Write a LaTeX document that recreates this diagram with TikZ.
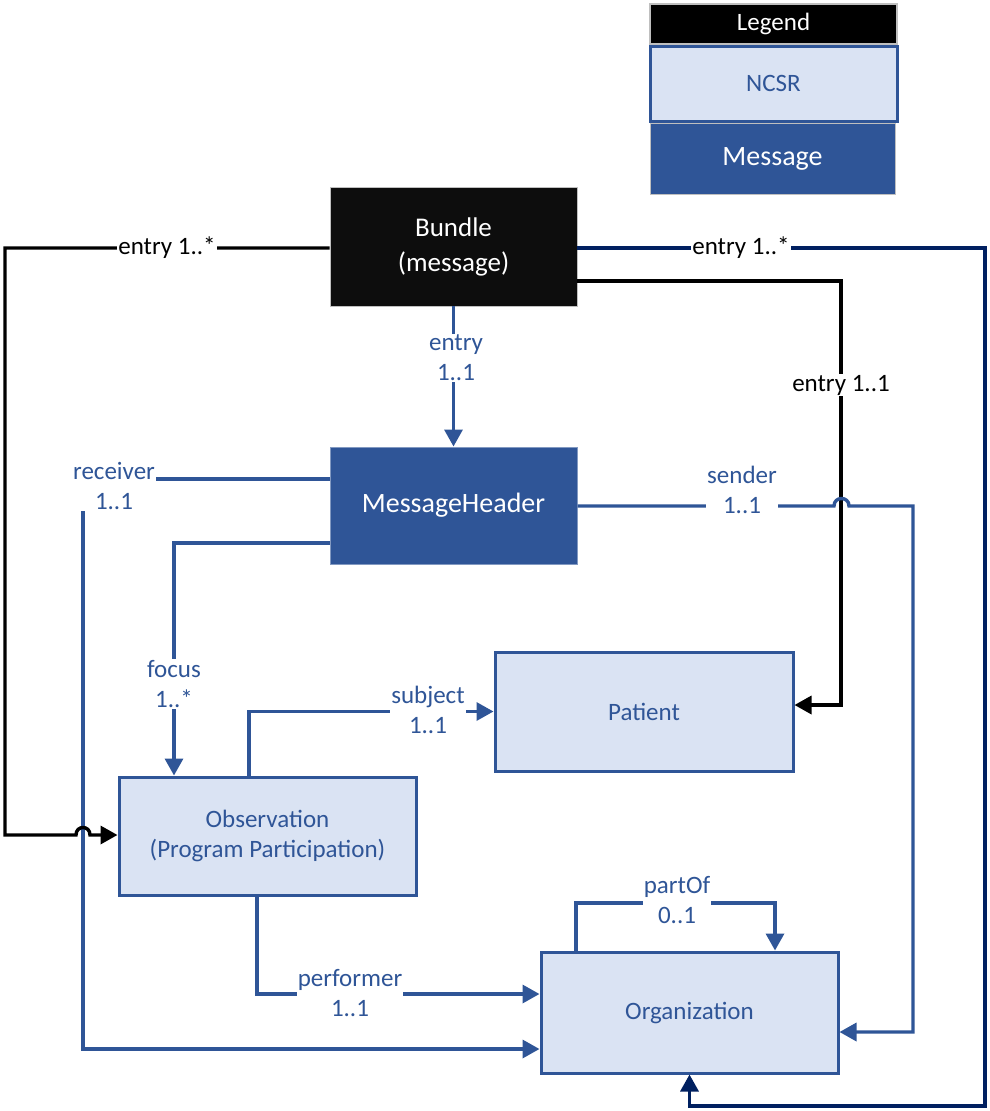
\documentclass[tikz,border=0pt]{standalone}
\usepackage{fontspec}
\setmainfont{Carlito}
\usetikzlibrary{arrows.meta}
\definecolor{fblue}{HTML}{2F5597}
\definecolor{lblue}{HTML}{DAE3F3}
\definecolor{navy}{HTML}{002060}
\definecolor{nblack}{HTML}{0D0D0D}
\definecolor{lgray}{HTML}{BFBFBF}
\begin{document}
\begin{tikzpicture}[x=1pt,y=-1pt,
  txt/.style={font=\fontsize{25}{30}\selectfont},
  big/.style={font=\fontsize{28}{34}\selectfont},
  box/.style={rectangle, align=center, inner sep=0pt, txt},
  ncsr/.style={box, fill=lblue, draw=fblue, line width=3pt, text=fblue},
  msg/.style={box, fill=fblue, draw=fblue!60!white, line width=1pt, text=white, big},
  conn/.style={line width=3.4pt, draw=fblue},
  blk/.style={line width=3.4pt, draw=black},
  nav/.style={line width=3.4pt, draw=navy},
  arr/.style={-{Triangle[length=17pt,width=18pt]}},
  lab/.style={fill=white, inner sep=1pt, align=center, text=fblue, txt},
  blab/.style={lab, text=black}
]
\useasboundingbox (0,0) rectangle (989,1111);
\fill[white] (0,0) rectangle (989,1111);

% legend
\node[box, fill=black, draw=lgray, line width=1.5pt, text=white, minimum width=247pt, minimum height=40pt] (lg) at (773.5,24) {Legend};
\node[ncsr, minimum width=247pt, minimum height=75pt] (lgn) at (773.5,83.5) {NCSR};
\node[msg, draw=lgray, minimum width=245pt, minimum height=71pt] (lgm) at (772.5,158.5) {Message};

% main nodes
\node[box, fill=nblack, draw=lgray, line width=0.8pt, text=white, minimum width=247pt, minimum height=119pt, font=\fontsize{27}{35}\selectfont] (B) at (453.5,246.5) {Bundle\\(message)};
\node[msg, minimum width=247pt, minimum height=117pt] (MH) at (453.5,505.5) {MessageHeader};
\node[ncsr, minimum width=298pt, minimum height=119pt] (Pat) at (644,711.5) {Patient};
\node[ncsr, minimum width=297pt, minimum height=118pt] (Obs) at (267.5,836) {Observation\\(Program Participation)};
\node[ncsr, minimum width=297pt, minimum height=121pt] (Org) at (689.5,1012.5) {Organization};

% connectors
\draw[conn,arr] (B.south) -- (MH.north);
\draw[conn,arr] (MH.west |- 0,479) -- (83,479) -- (83,1049) -- (Org.west |- 0,1049);
\draw[conn,arr] (MH.west |- 0,543) -| (Obs.north -| 174,0);
\draw[conn,arr] (Obs.north -| 249,0) |- (Pat.west);
\draw[conn,arr] (Obs.south -| 257,0) |- (Org.west |- 0,994);
\draw[conn,arr] (Org.north -| 576,0) -- (576,903) -- (775,903) -- (Org.north -| 775,0);
\draw[blk,arr] (B.west |- 0,248) -- (5,248) -- (5,835) -- (76,835) .. controls (76,825) and (90,825) .. (90,835) -- (Obs.west |- 0,835);
\draw[blk,arr] (B.east |- 0,281) -- (841,281) -- (841,705) -- (Pat.east |- 0,705);
\draw[nav,arr] (B.east |- 0,248) -- (985,248) -- (985,1106) -| (Org.south);
\draw[conn,arr] (MH.east |- 0,506) -- (834,506) .. controls (834,496) and (849,496) .. (849,506) -- (913,506) -- (913,1032) -- (Org.east |- 0,1032);

% labels
\node[blab] (l1) at (167,248) {entry 1..*};
\node[blab] (l2) at (741,248) {entry 1..*};
\node[blab] (l3) at (841,385) {entry 1..1};
\node[lab] (l4) at (456,358) {entry\\1..1};
\node[lab] (l5) at (114,486) {receiver\\1..1};
\node[lab] (l6) at (174,684) {focus\\1..*};
\node[lab] (l7) at (742,490) {sender\\1..1};
\node[lab] (l8) at (428,710) {subject\\1..1};
\node[lab] (l9) at (350,993) {performer\\1..1};
\node[lab] (l10) at (677,900) {partOf\\0..1};
\end{tikzpicture}
\end{document}
